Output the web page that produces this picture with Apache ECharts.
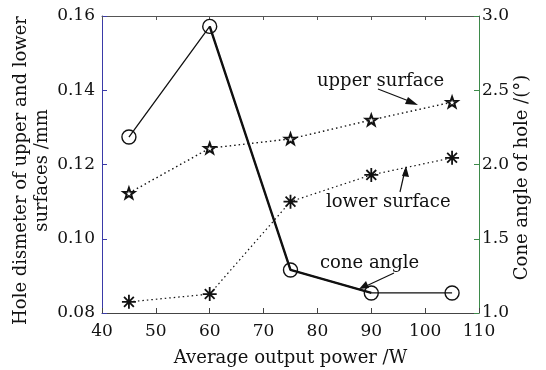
<!DOCTYPE html>
<html><head><meta charset="utf-8">
<script src="https://cdn.jsdelivr.net/npm/echarts@6/dist/echarts.min.js"></script>
<style>html,body{margin:0;padding:0;background:#fff}#c{width:546px;height:370px}</style>
</head><body><div id="c"></div>
<script>
const power = [45, 60, 75, 90, 105];
const upperSurface = [0.1123, 0.1244, 0.1269, 0.1320, 0.1368];
const lowerSurface = [0.0830, 0.0851, 0.1100, 0.1172, 0.1218];
const coneAngle = [2.185, 2.93, 1.29, 1.135, 1.135];
const xTicks = [40, 50, 60, 70, 80, 90, 100, 110];
const leftTicks = [0.08, 0.10, 0.12, 0.14, 0.16];
const rightTicks = [1.0, 1.5, 2.0, 2.5, 3.0];

const FONT = 'DejaVu Serif';
const STAR = 'path://M0,-10L2.35,-3.24L9.51,-3.09L3.8,1.24L5.88,8.09L0,4L-5.88,8.09L-3.8,1.24L-9.51,-3.09L-2.35,-3.24Z';
const AST = 'path://M0,-10L0,10M-10,0L10,0M-7,-7L7,7M-7,7L7,-7';

const pair = (xs, ys) => xs.map((x, i) => [x, ys[i]]);
const thick = power.map((x, i) => [x, (i >= 1 && i <= 3) ? coneAngle[i] : null]);

const chart = echarts.init(document.getElementById('c'), null, {renderer: 'canvas'});
const tick = {fontFamily: FONT, fontSize: 17, color: '#111'};
chart.setOption({
  animation: false,
  backgroundColor: '#fff',
  grid: {left: 102, right: 67, top: 16, bottom: 57, show: false, containLabel: false, outerBoundsMode: 'none'},
  xAxis: [{
    type: 'value', min: xTicks[0], max: xTicks[xTicks.length - 1], interval: 10,
    name: 'Average output power /W', nameLocation: 'middle', nameGap: 36,
    nameTextStyle: {fontFamily: FONT, fontSize: 18, color: '#111'},
    axisLine: {lineStyle: {color: '#444', width: 1}},
    axisTick: {inside: true, length: 5, lineStyle: {color: '#444'}},
    axisLabel: Object.assign({margin: 10}, tick),
    splitLine: {show: false}
  }, {
    type: 'value', position: 'top', min: xTicks[0], max: xTicks[xTicks.length - 1], interval: 10,
    axisLine: {lineStyle: {color: '#555', width: 1}},
    axisTick: {inside: true, length: 4, lineStyle: {color: '#555'}},
    axisLabel: {show: false}, splitLine: {show: false}
  }],
  yAxis: [{
    type: 'value', min: leftTicks[0], max: leftTicks[leftTicks.length - 1], interval: 0.02,
    name: 'Hole dismeter of upper and lower\nsurfaces /mm', nameLocation: 'middle', nameGap: 49,
    nameMoveOverlap: false,
    nameTextStyle: {fontFamily: FONT, fontSize: 18, color: '#111', lineHeight: 21, padding: [0, 12, 0, 0]},
    axisLine: {show: true, lineStyle: {color: '#3a3aa8', width: 1}},
    axisTick: {show: true, inside: true, length: 5, lineStyle: {color: '#3a3aa8'}},
    axisLabel: Object.assign({margin: 7, formatter: v => v.toFixed(2)}, tick),
    splitLine: {show: false}
  }, {
    type: 'value', position: 'right', min: rightTicks[0], max: rightTicks[rightTicks.length - 1], interval: 0.5,
    name: 'Cone angle of hole /(°)', nameLocation: 'middle', nameGap: 34,
    nameMoveOverlap: false,
    nameTextStyle: {fontFamily: FONT, fontSize: 18, color: '#111', padding: [0, 26, 0, 0]},
    axisLine: {show: true, lineStyle: {color: '#3d8a4a', width: 1}},
    axisTick: {show: true, inside: true, length: 5, lineStyle: {color: '#3d8a4a'}},
    axisLabel: Object.assign({margin: 3, formatter: v => v.toFixed(1)}, tick),
    splitLine: {show: false}
  }],
  series: [{
    type: 'line', yAxisIndex: 0, data: pair(power, upperSurface),
    symbol: STAR, symbolSize: 11, symbolKeepAspect: true,
    lineStyle: {color: '#111', width: 1.4, type: [1.5, 3]},
    itemStyle: {color: '#fff', borderColor: '#111', borderWidth: 2}, z: 3
  }, {
    type: 'line', yAxisIndex: 0, data: pair(power, lowerSurface),
    symbol: AST, symbolSize: 14, symbolKeepAspect: true,
    lineStyle: {color: '#111', width: 1.2, type: [1.5, 3]},
    itemStyle: {color: 'none', borderColor: '#111', borderWidth: 1.8}, z: 3
  }, {
    type: 'line', yAxisIndex: 1, data: pair(power, coneAngle),
    symbol: 'circle', symbolSize: 14,
    lineStyle: {color: '#111', width: 1.3},
    itemStyle: {color: 'rgba(255,255,255,0)', borderColor: '#111', borderWidth: 1.4}, z: 4
  }, {
    type: 'line', yAxisIndex: 1, data: thick, connectNulls: false,
    showSymbol: false, symbol: 'none',
    lineStyle: {color: '#111', width: 2.4}, z: 3
  }],
  graphic: [
    {type: 'text', left: 317, top: 72, style: {text: 'upper surface', font: '18px "DejaVu Serif"', fill: '#111'}},
    {type: 'line', shape: {x1: 378, y1: 89, x2: 414, y2: 103}, style: {stroke: '#111', lineWidth: 1.2}},
    {type: 'polygon', shape: {points: [[418, 105], [408, 97], [405, 104]]}, style: {fill: '#111'}},
    {type: 'text', left: 326, top: 193, style: {text: 'lower surface', font: '18px "DejaVu Serif"', fill: '#111'}},
    {type: 'line', shape: {x1: 400, y1: 192, x2: 405, y2: 170}, style: {stroke: '#111', lineWidth: 1.2}},
    {type: 'polygon', shape: {points: [[406, 166], [402, 176], [409, 177]]}, style: {fill: '#111'}},
    {type: 'text', left: 320, top: 254, style: {text: 'cone angle', font: '18px "DejaVu Serif"', fill: '#111'}},
    {type: 'line', shape: {x1: 394, y1: 273, x2: 364, y2: 287}, style: {stroke: '#111', lineWidth: 1.2}},
    {type: 'polygon', shape: {points: [[359, 289], [366, 281], [369, 288]]}, style: {fill: '#111'}}
  ]
});
</script></body></html>
